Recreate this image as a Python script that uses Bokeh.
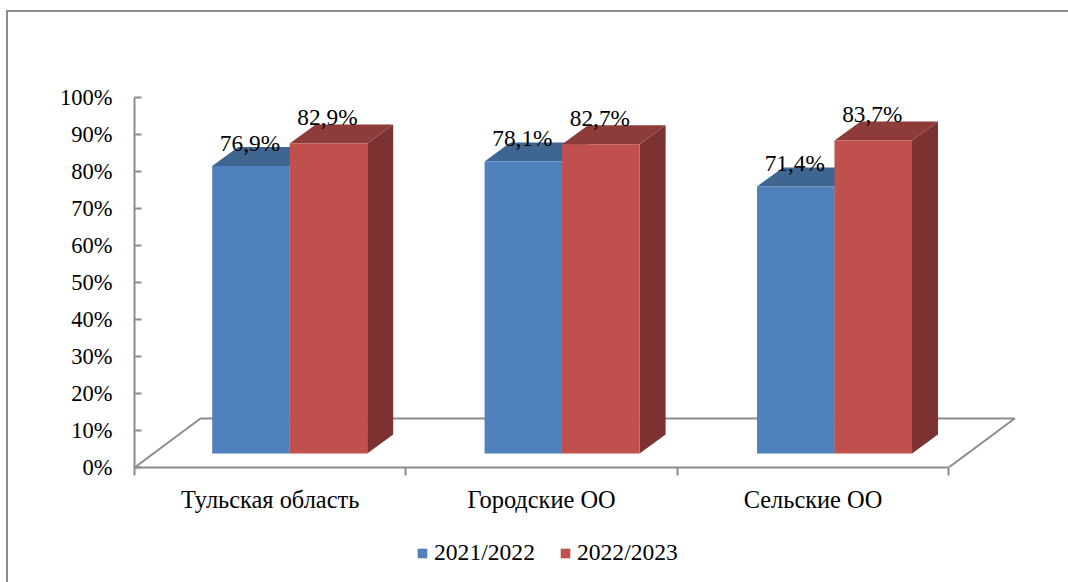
from bokeh.core.properties import value
from bokeh.embed import file_html
from bokeh.layouts import column
from bokeh.models import (ColumnDataSource, FixedTicker, InlineStyleSheet, Legend, LegendItem,
                          LinearAxis, PrintfTickFormatter, Range1d)
from bokeh.plotting import figure
from bokeh.resources import INLINE

categories = ["Тульская область", "Городские ОО", "Сельские ОО"]
series_names = ["2021/2022", "2022/2023"]
series_colors = ["#4F81BD", "#C0504D"]
series_2021 = [76.9, 78.1, 71.4]
series_2022 = [82.9, 82.7, 83.7]
percent_ticks = [0, 10, 20, 30, 40, 50, 60, 70, 80, 90, 100]

FONT = "Liberation Serif"
GREY = "#8c8c8c"

W, H = 1068, 582
CHART_H = 520
LEGEND_H = H - CHART_H
LEFT, BOTTOM = 134, CHART_H - 467
UNIT_X = 271.4        # pixels per category on the axis
UNIT_Y = 3.7          # pixels per percentage point on the axis
BAR_K = 3.74 / UNIT_Y  # the bars stand nearer than the back wall
BAR_PITCH = 272.4 / UNIT_X

# Oblique projection offsets, in data units
floor_dx, floor_dy = 66 / UNIT_X, 49 / UNIT_Y
bar_dx, bar_dy = 26 / UNIT_X, 19 / UNIT_Y
bar_w = 77.5 / UNIT_X
bar_shift = 19 / UNIT_X
bar_base = 14 / UNIT_Y

# The chart area border is open on the right and at the bottom
border_css = f""":host {{ position: relative; }}
:host::after {{
  content: ""; position: absolute; left: 6px; top: 10px; right: 0; bottom: 0;
  border-left: 2px solid {GREY}; border-top: 2px solid {GREY}; pointer-events: none;
}}"""

p = figure(width=W, height=CHART_H, output_backend="svg", toolbar_location=None,
           x_range=Range1d(0, (W - LEFT) / UNIT_X), y_range=Range1d(0, (CHART_H - BOTTOM) / UNIT_Y),
           x_axis_type=None, y_axis_type=None,
           min_border_left=LEFT, min_border_bottom=BOTTOM, min_border_top=0, min_border_right=0,
           background_fill_color="white", border_fill_color="white", outline_line_color=None)
p.grid.visible = False

# Left axis
y_axis = LinearAxis(ticker=FixedTicker(ticks=percent_ticks), bounds=(0, 100),
                    formatter=PrintfTickFormatter(format="%d%%"),
                    axis_line_color=GREY, axis_line_width=2,
                    major_tick_line_color=GREY, major_tick_line_width=2,
                    major_tick_in=7, major_tick_out=0, minor_tick_line_color=None,
                    major_label_standoff=22, major_label_text_font=FONT,
                    major_label_text_font_size="22.5px", major_label_text_color="black")
p.add_layout(y_axis, "left")

# Category axis: labels at the centres, tick marks between categories
n = len(categories)
centres = [i + 0.5 for i in range(n)]
x_axis = LinearAxis(ticker=FixedTicker(ticks=centres, minor_ticks=list(range(n + 1))),
                    bounds=(0, n),
                    major_label_overrides={c: name for c, name in zip(centres, categories)},
                    axis_line_color=GREY, axis_line_width=2,
                    major_tick_line_color=None, major_tick_in=0, major_tick_out=0,
                    minor_tick_line_color=GREY, minor_tick_line_width=2,
                    minor_tick_in=0, minor_tick_out=8,
                    major_label_standoff=10, major_label_text_font=FONT,
                    major_label_text_font_size="24.4px", major_label_text_color="black")
p.add_layout(x_axis, "below")

# Floor of the 3D box
p.line([0, floor_dx, n + floor_dx, n], [0, floor_dy, floor_dy, 0],
       line_color=GREY, line_width=2)


def draw_series(values, offset, front, top_c, side_c):
    left = [(i + 0.5) * BAR_PITCH + bar_shift + offset * bar_w for i in range(n)]
    right = [x + bar_w for x in left]
    tops = [bar_base + v * BAR_K for v in values]
    bases = [bar_base] * n
    src = ColumnDataSource(dict(left=left, right=right, top=tops, bottom=bases))
    p.patches([[r, r + bar_dx, r + bar_dx, r] for r in right],
              [[b, b + bar_dy, t + bar_dy, t] for b, t in zip(bases, tops)],
              fill_color=side_c, line_color=None)
    p.patches([[l, l + bar_dx, r + bar_dx, r] for l, r in zip(left, right)],
              [[t, t + bar_dy, t + bar_dy, t] for t in tops],
              fill_color=top_c, line_color=None)
    p.quad(left="left", right="right", top="top", bottom="bottom", source=src,
           fill_color=front, line_color=None)
    return left, tops


left_a, tops_a = draw_series(series_2021, -1, series_colors[0], "#3F6591", "#3F6591")
left_b, tops_b = draw_series(series_2022, 0, series_colors[1], "#8E3C3A", "#7C3231")

# Value labels stay above the other glyphs
for lefts, tops, vals, gap in ((left_a, tops_a, series_2021, -23), (left_b, tops_b, series_2022, -26)):
    p.text([l + bar_w / 2 for l in lefts], tops,
           text=[f"{v:.1f}%".replace(".", ",") for v in vals],
           text_font=value(FONT), text_font_size="23.3px", text_color="black",
           text_align="center", text_baseline="alphabetic", x_offset=-1, y_offset=gap)

# Legend strip under the chart; its swatch glyphs sit outside the visible range
strip = figure(width=W, height=LEGEND_H, output_backend="svg", toolbar_location=None,
               x_range=Range1d(0, 1), y_range=Range1d(0, 1), x_axis_type=None, y_axis_type=None,
               min_border=0, outline_line_color=None,
               background_fill_color="white", border_fill_color="white")
strip.grid.visible = False
items = []
for name, color in zip(series_names, series_colors):
    swatch = strip.quad(left=[2], right=[3], top=[1], bottom=[0], fill_color=color, line_color=None)
    items.append(LegendItem(label=name, renderers=[swatch]))
strip.add_layout(Legend(items=items, orientation="horizontal", location=(282, 16),
                        glyph_width=12, glyph_height=12, label_standoff=6, spacing=24,
                        padding=0, margin=0, border_line_color=None, background_fill_alpha=0,
                        label_text_font=FONT, label_text_font_size="23.6px",
                        label_text_color="black", label_height=12), "center")

page = column(p, strip, spacing=0, width=W, height=H,
              stylesheets=[InlineStyleSheet(css=border_css)])

open("out.html", "w").write(file_html(page, INLINE))
